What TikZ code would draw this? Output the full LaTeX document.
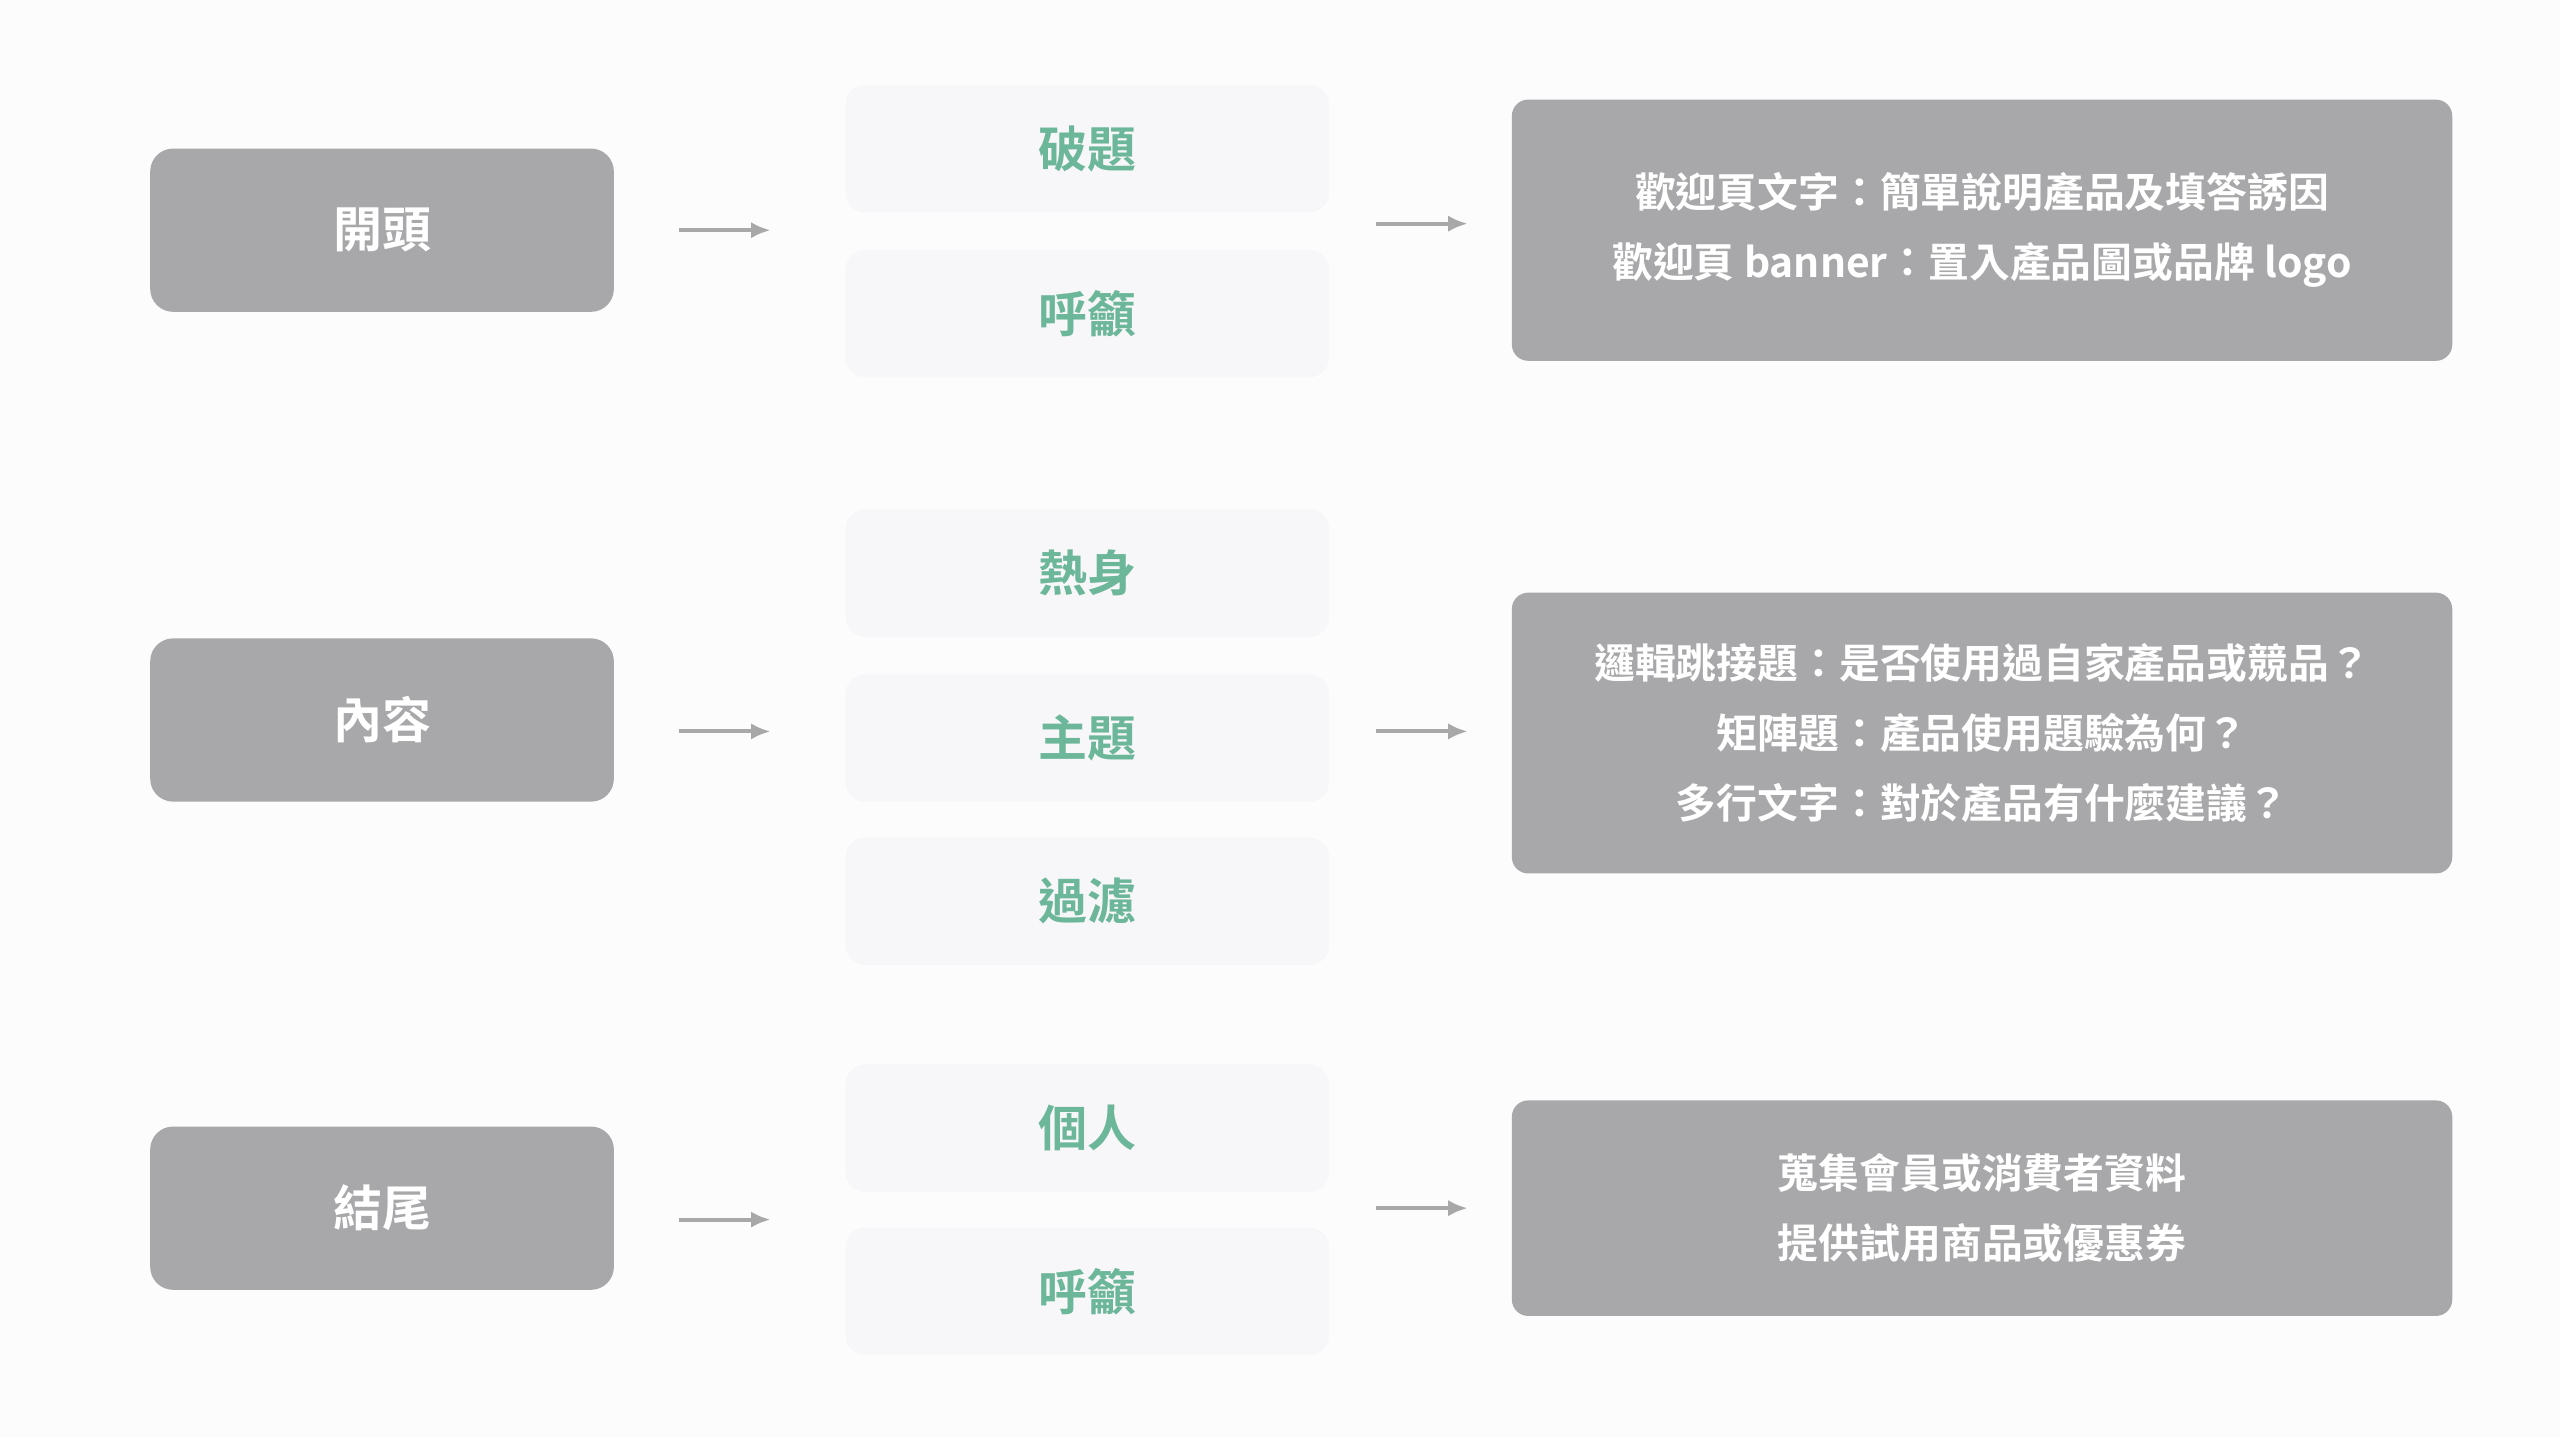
\documentclass[tikz,border=0pt]{standalone}
\usepackage{fontspec}
\setmainfont{Noto Sans CJK TC}[BoldFont={Noto Sans CJK TC Bold}]
\begin{document}
\begin{tikzpicture}[x=1pt,y=-1pt,
 sec/.style={fill=boxgray,rounded corners=14pt,text=white,font=\fontsize{30}{36}\selectfont\bfseries},
 mid/.style={fill=midfill,rounded corners=12pt,text=green,font=\fontsize{30}{36}\selectfont\bfseries},
 det/.style={fill=boxgray,rounded corners=10pt,text=white,font=\fontsize{25}{43}\selectfont\bfseries,align=center},
 arr/.style={draw=arrgray,line width=2.5pt,-{Latex[length=12pt,width=10pt]}}]
\definecolor{boxgray}{HTML}{A8A7AA}
\definecolor{midfill}{HTML}{F7F6F8}
\definecolor{green}{HTML}{6CB79A}
\definecolor{arrgray}{HTML}{A8A8A8}
\usetikzlibrary{arrows.meta}
\fill[white!98!gray] (0,0) rectangle (1568,880);
\useasboundingbox (0,0) rectangle (1568,880);
% left
\node[sec,minimum width=284,minimum height=100] (a) at (234,141) {開頭};
\node[sec,minimum width=284,minimum height=100] (b) at (234,441) {內容};
\node[sec,minimum width=284,minimum height=100] (c) at (234,740) {結尾};
% middle
\foreach \n/\y/\t in {m1/91/破題,m2/192/呼籲,m3/351/熱身,m4/452/主題,m5/552/過濾,m6/691/個人,m7/791/呼籲}
  \node[mid,minimum width=296,minimum height=78] (\n) at (666,\y) {\t};
% right
\node[det,minimum width=576,minimum height=160] (r1) at (1214,141) {歡迎頁文字：簡單說明產品及填答誘因\\歡迎頁 banner：置入產品圖或品牌 logo};
\node[det,minimum width=576,minimum height=172] (r2) at (1214,449) {邏輯跳接題：是否使用過自家產品或競品？\\矩陣題：產品使用題驗為何？\\多行文字：對於產品有什麼建議？};
\node[det,minimum width=576,minimum height=132] (r3) at (1214,740) {蒐集會員或消費者資料\\提供試用商品或優惠券};
% arrows
\coordinate (p1) at (416,141); \coordinate (q1) at (472,141);
\coordinate (p2) at (416,448); \coordinate (q2) at (472,448);
\coordinate (p3) at (416,747); \coordinate (q3) at (472,747);
\coordinate (s1) at (843,137); \coordinate (t1) at (899,137);
\coordinate (s2) at (843,448); \coordinate (t2) at (899,448);
\coordinate (s3) at (843,740); \coordinate (t3) at (899,740);
\foreach \u/\v in {p1/q1,p2/q2,p3/q3,s1/t1,s2/t2,s3/t3} \draw[arr] (\u) -- (\v);
\end{tikzpicture}
\end{document}
